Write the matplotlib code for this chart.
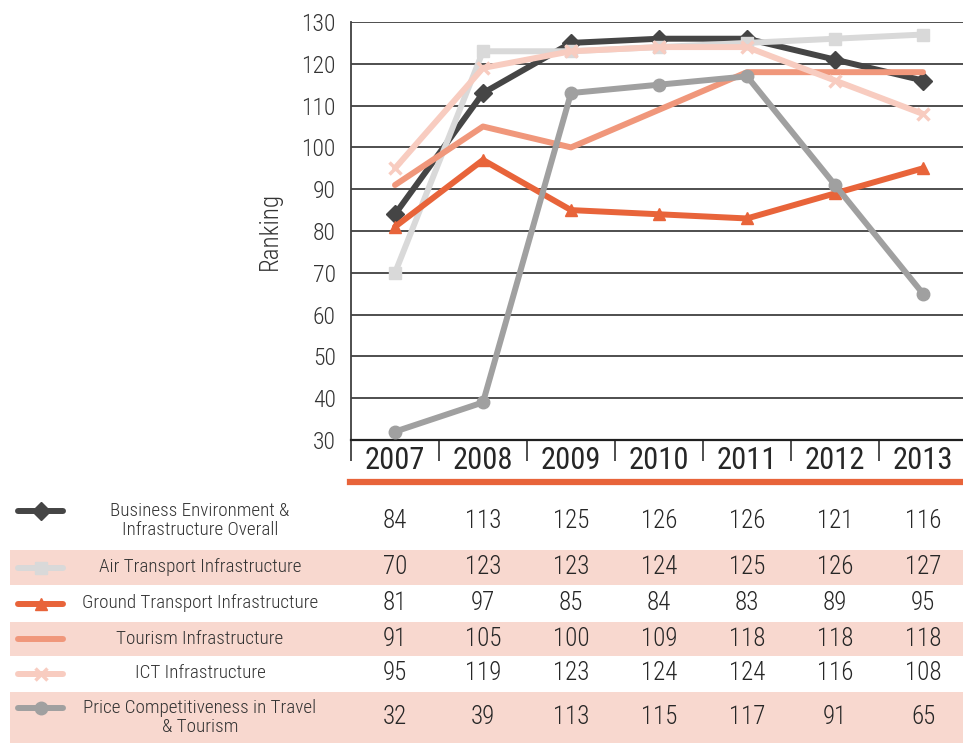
import matplotlib
matplotlib.use("Agg")
import matplotlib.pyplot as plt
import matplotlib.transforms as mtransforms
from matplotlib.patches import Rectangle
from matplotlib.lines import Line2D
from matplotlib import font_manager as fm

names = {f.name for f in fm.fontManager.ttflist}
cands = ['Roboto Condensed', 'Liberation Sans Narrow', 'DejaVu Sans']
fams = [c for c in cands if c in names]
plt.rcParams['font.family'] = fams if fams else ['DejaVu Sans']
has_light = any(f.name == 'Roboto Condensed' and f.weight in (300, 'light') for f in fm.fontManager.ttflist)
LIGHT = 'light' if has_light else 'normal'

years = ["2007", "2008", "2009", "2010", "2011", "2012", "2013"]
series_names = [
    "Business Environment &\nInfrastructure Overall",
    "Air Transport Infrastructure",
    "Ground Transport Infrastructure",
    "Tourism Infrastructure",
    "ICT Infrastructure",
    "Price Competitiveness in Travel\n& Tourism",
]
business = [84, 113, 125, 126, 126, 121, 116]
air = [70, 123, 123, 124, 125, 126, 127]
ground = [81, 97, 85, 84, 83, 89, 95]
tourism = [91, 105, 100, 109, 118, 118, 118]
ict = [95, 119, 123, 124, 124, 116, 108]
price = [32, 39, 113, 115, 117, 91, 65]
yticks = [30, 40, 50, 60, 70, 80, 90, 100, 110, 120, 130]

all_series = [business, air, ground, tourism, ict, price]
colors = ["#454545", "#D9D9D9", "#E8643A", "#F0977B", "#F8CCC0", "#A0A0A0"]
markers = ["D", "s", "^", None, "x", "o"]
msizes = [9, 9, 9, 0, 8, 9]
draw_order = [2, 3, 5, 0, 4, 1]

W, H = 963, 743
fig = plt.figure(figsize=(W / 100, H / 100), dpi=100)

x0, x1 = 351, 967
y_top, y_bot = 22, 440
ax = fig.add_axes([x0 / W, 1 - y_bot / H, (x1 - x0) / W, (y_bot - y_top) / H])
xs = list(range(len(years)))

for i in draw_order:
    ax.plot(xs, all_series[i], color=colors[i], lw=4.3, marker=markers[i],
            markersize=msizes[i], markeredgewidth=2.5 if markers[i] == "x" else 1,
            markeredgecolor=colors[i], markerfacecolor=colors[i],
            solid_capstyle="round", zorder=3 + i * 0.1, clip_on=False)

ax.set_xlim(-0.5, len(years) - 0.5)
ax.set_ylim(30, 130)
ax.set_yticks(yticks)
ax.set_yticklabels([str(v) for v in yticks], fontsize=17, color="#333333", fontweight=LIGHT)
ax.tick_params(axis="y", length=0, pad=11)
ax.yaxis.grid(True, color="#404040", lw=1.3)
ax.set_axisbelow(True)
ax.set_xticks([i - 0.5 for i in range(len(years) + 1)], minor=False)
ax.set_xticklabels([])
ax.tick_params(axis="x", length=15, width=1.3, color="#404040", direction="out")
ax.set_xticks(xs, minor=True)
ax.set_xticklabels(years, minor=True, fontsize=22, color="#262626", fontweight="normal")
ax.tick_params(axis="x", which="minor", length=0, pad=4)
for s in ["top", "right"]:
    ax.spines[s].set_visible(False)
ax.spines["left"].set_color("#404040")
ax.spines["bottom"].set_color("#202020")
ax.spines["left"].set_linewidth(1.3)
ax.spines["bottom"].set_linewidth(1.6)
ax.set_ylabel("Ranking", fontsize=18, color="#333333", labelpad=14, fontweight=LIGHT)

fig.add_artist(Line2D([350 / W, 1.0], [1 - 482 / H, 1 - 482 / H], color="#E8643A", lw=4.5,
                      transform=fig.transFigure))

row_bounds = [(495, 546), (550, 585), (587, 620), (622, 656), (657, 690), (692, 743)]
highlight = [False, True, False, True, False, True]
blend = mtransforms.blended_transform_factory(ax.transData, fig.transFigure)
for r, (top, bot) in enumerate(row_bounds):
    yc = 1 - ((top + bot) / 2) / H
    if highlight[r]:
        fig.add_artist(Rectangle((10 / W, 1 - bot / H), (W - 10) / W, (bot - top) / H,
                                 facecolor="#F8D8CF", edgecolor="none",
                                 transform=fig.transFigure, zorder=0))
    ly = 1 - ((top + bot) / 2 - (10 if r in (0, 5) else 0)) / H
    fig.add_artist(Line2D([18 / W, 63 / W], [ly, ly], color=colors[r], lw=4.3,
                          solid_capstyle="round", transform=fig.transFigure))
    if markers[r]:
        fig.add_artist(Line2D([40.5 / W], [ly], marker=markers[r], markersize=msizes[r],
                              markeredgewidth=2.5 if markers[r] == "x" else 1,
                              color=colors[r], markeredgecolor=colors[r],
                              transform=fig.transFigure))
    fig.text(200 / W, yc, series_names[r], ha="center", va="center", fontsize=13.8,
             color="#333333", linespacing=1.1, fontweight=LIGHT)
    for j, v in enumerate(all_series[r]):
        fig.text(xs[j], yc, str(v), transform=blend, ha="center", va="center",
                 fontsize=18, color="#262626", fontweight=LIGHT)

fig.savefig("out.png", dpi=100)
